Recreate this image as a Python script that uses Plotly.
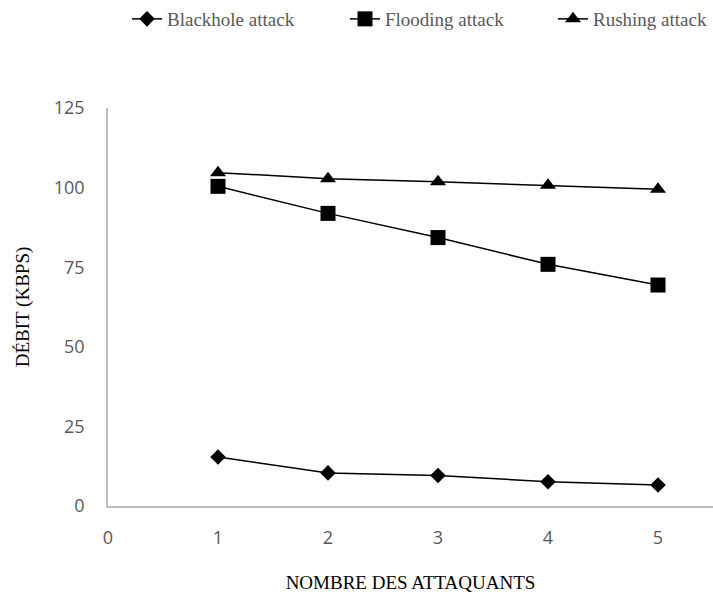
import plotly.graph_objects as go

x_vals = [1, 2, 3, 4, 5]
blackhole = [15.4, 10.4, 9.6, 7.6, 6.6]
flooding = [100.4, 91.9, 84.3, 75.9, 69.4]
rushing = [104.7, 102.8, 101.8, 100.7, 99.5]
y_ticks = [0, 25, 50, 75, 100, 125]
x_ticks = [0, 1, 2, 3, 4, 5]

fig = go.Figure()
fig.add_trace(go.Scatter(x=x_vals, y=blackhole, mode="lines+markers", name="Blackhole attack",
                         legend="legend",
                         line=dict(color="black", width=1.5),
                         marker=dict(symbol="diamond", size=12, color="black")))
fig.add_trace(go.Scatter(x=x_vals, y=flooding, mode="lines+markers", name="Flooding attack",
                         legend="legend2",
                         line=dict(color="black", width=1.5),
                         marker=dict(symbol="square", size=15, color="black")))
fig.add_trace(go.Scatter(x=x_vals, y=rushing, mode="lines+markers", name="Rushing attack",
                         legend="legend3",
                         line=dict(color="black", width=1.5),
                         marker=dict(symbol="triangle-up", size=14, color="black")))

legend_font = dict(family="Liberation Serif", size=19, color="#595959")


def make_legend(px):
    return dict(orientation="h", x=px / 713, xanchor="left", xref="container",
                y=1, yanchor="top", yref="container", font=legend_font,
                itemwidth=30, bgcolor="rgba(0,0,0,0)")


fig.update_layout(
    width=713, height=594,
    margin=dict(l=108, r=0, t=107.5, b=87.5),
    plot_bgcolor="white", paper_bgcolor="white",
    showlegend=True,
    legend=make_legend(127),
    legend2=make_legend(345),
    legend3=make_legend(553),
    xaxis=dict(range=[0, 5.5], tickvals=x_ticks, showgrid=False, zeroline=False,
               showline=True, linecolor="#BFBFBF", linewidth=1.5,
               ticks="outside", ticklen=15, tickcolor="white", tickwidth=1,
               tickfont=dict(family="Open Sans", size=18, color="#595959"),
               title=dict(text="NOMBRE DES ATTAQUANTS", standoff=27,
                          font=dict(family="Liberation Serif", size=19, color="black"))),
    yaxis=dict(range=[0, 125], tickvals=y_ticks, showgrid=False, zeroline=False,
               showline=True, linecolor="#BFBFBF", linewidth=1.5,
               ticks="outside", ticklen=18, tickcolor="white", tickwidth=1,
               tickfont=dict(family="Open Sans", size=18, color="#595959"),
               title=dict(text="DÉBIT (KBPS)", standoff=19,
                          font=dict(family="Liberation Serif", size=19, color="black"))),
)
fig.write_html("out.html")
